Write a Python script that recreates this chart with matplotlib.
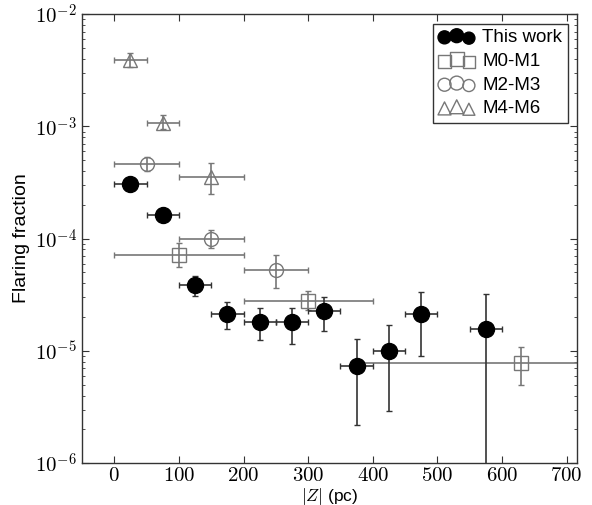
import math
import matplotlib
matplotlib.use("Agg")
import matplotlib.pyplot as plt
from matplotlib.ticker import FuncFormatter, LogLocator

plt.rcParams['mathtext.fontset'] = 'cm'
plt.rcParams['font.family'] = ['Liberation Sans', 'DejaVu Sans']

# This work
tw_z = [25, 75, 125, 175, 225, 275, 325, 375, 425, 475, 575]
tw_zerr = [25] * 11
tw_f = [3.08e-4, 1.61e-4, 3.9e-5, 2.14e-5, 1.81e-5, 1.81e-5, 2.26e-5, 7.35e-6, 1.0e-5, 2.13e-5, 1.58e-5]
tw_up = [3.5e-4, 1.75e-4, 4.6e-5, 2.74e-5, 2.39e-5, 2.42e-5, 3.04e-5, 1.27e-5, 1.71e-5, 3.36e-5, 3.19e-5]
tw_lo = [2.7e-4, 1.48e-4, 3.1e-5, 1.58e-5, 1.24e-5, 1.15e-5, 1.49e-5, 2.17e-6, 2.92e-6, 8.95e-6, 1e-7]

# M0-M1
m01_z = [100, 300, 630]
m01_zerr = [100, 100, 250]
m01_f = [7.2e-5, 2.8e-5, 7.85e-6]
m01_up = [9.2e-5, 3.4e-5, 1.08e-5]
m01_lo = [5.6e-5, 2.3e-5, 4.94e-6]

# M2-M3
m23_z = [50, 150, 250]
m23_zerr = [50, 50, 50]
m23_f = [4.61e-4, 1.0e-4, 5.3e-5]
m23_up = [5.3e-4, 1.19e-4, 7.1e-5]
m23_lo = [4.0e-4, 8.2e-5, 3.6e-5]

# M4-M6
m46_z = [25, 75, 150]
m46_zerr = [25, 25, 50]
m46_f = [3.9e-3, 1.08e-3, 3.56e-4]
m46_up = [4.5e-3, 1.25e-3, 4.69e-4]
m46_lo = [3.4e-3, 0.95e-3, 2.5e-4]

fig = plt.figure(figsize=(5.92, 5.05), dpi=100)
ax = fig.add_axes([0.1385, 0.083, 0.8362, 0.889])

gray = '#777777'

def yerr(f, up, lo):
    return [[a - b for a, b in zip(f, lo)], [b - a for a, b in zip(f, up)]]

ax.errorbar(m01_z, m01_f, xerr=m01_zerr, yerr=yerr(m01_f, m01_up, m01_lo), fmt='s',
            ms=10, mfc='none', mec=gray, mew=1.0, ecolor=gray, elinewidth=1.2, capsize=2)
ax.errorbar(m23_z, m23_f, xerr=m23_zerr, yerr=yerr(m23_f, m23_up, m23_lo), fmt='o',
            ms=10, mfc='none', mec=gray, mew=1.0, ecolor=gray, elinewidth=1.2, capsize=2)
ax.errorbar(m46_z, m46_f, xerr=m46_zerr, yerr=yerr(m46_f, m46_up, m46_lo), fmt='^',
            ms=10, mfc='none', mec=gray, mew=1.0, ecolor=gray, elinewidth=1.2, capsize=2)
ax.errorbar(tw_z, tw_f, xerr=tw_zerr, yerr=yerr(tw_f, tw_up, tw_lo), fmt='o',
            ms=11.5, mfc='black', mec='black', ecolor='#333333', elinewidth=1.2, capsize=2)

# legend proxies with varying sizes, like old scatter legends
def proxy(**kw):
    h = ax.scatter([], [], s=80, **kw)
    h.set_sizes([80, 100, 75])
    return h

h1 = proxy(c='black', marker='o', label='This work')
h2 = proxy(facecolors='none', edgecolors=gray, marker='s', label='M0-M1')
h3 = proxy(facecolors='none', edgecolors=gray, marker='o', label='M2-M3')
h4 = proxy(facecolors='none', edgecolors=gray, marker='^', label='M4-M6')
leg = ax.legend(handles=[h1, h2, h3, h4], loc='upper right', scatterpoints=3,
                fontsize=13.5, fancybox=False, framealpha=1, edgecolor='#333333',
                handletextpad=0.4, borderpad=0.3, labelspacing=0.35, handlelength=1.9,
                borderaxespad=0.5)
leg.get_frame().set_linewidth(1.0)

ax.set_yscale('log')
ax.set_ylim(1e-6, 1e-2)
ax.set_xlim(-50, 716)
ax.set_xticks([0, 100, 200, 300, 400, 500, 600, 700])
ax.xaxis.set_major_formatter(FuncFormatter(lambda v, p: r'$%d$' % v))
ax.yaxis.set_major_locator(LogLocator(base=10, numticks=10))
ax.yaxis.set_major_formatter(FuncFormatter(lambda v, p: r'$10^{%d}$' % round(math.log10(v))))

ax.tick_params(which='both', direction='in', top=True, right=True, colors='#333333',
               labelcolor='black', labelsize=15)
ax.tick_params(axis='x', pad=2)
ax.tick_params(which='major', length=5, width=0.8)
ax.tick_params(which='minor', length=2.5, width=0.6)
for s in ax.spines.values():
    s.set_color('#333333')
    s.set_linewidth(1.0)

ax.set_xlabel(r'$|Z|$ (pc)', fontsize=12.5)
ax.xaxis.set_label_coords(0.5, -0.05)
ax.set_ylabel('Flaring fraction', fontsize=14, labelpad=4)

fig.savefig('out.png', dpi=100)
